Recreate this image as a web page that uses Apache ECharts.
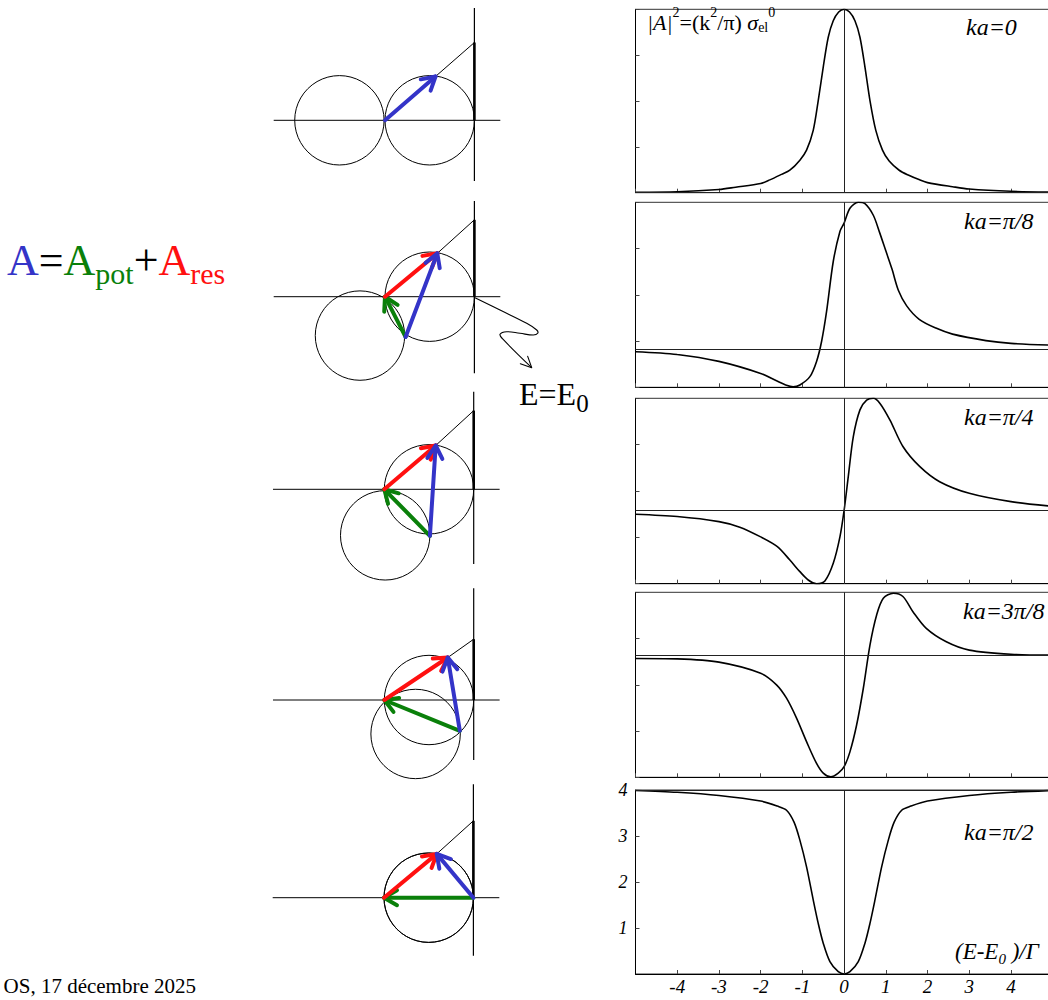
<!DOCTYPE html>
<html><head><meta charset="utf-8">
<script src="https://cdn.jsdelivr.net/npm/echarts@6/dist/echarts.min.js"></script>
<style>html,body{margin:0;padding:0;background:#fff}#c{width:1048px;height:1000px}</style>
</head><body><div id="c"></div>
<script>
// ---------------- data ----------------
const xTickLabels = ['-4','-3','-2','-1','0','1','2','3','4'];
const yTickLabels = ['1','2','3','4'];
const panelLabels = ['ka=0','ka=π/8','ka=π/4','ka=3π/8','ka=π/2'];
const baselines = [0, 0.835, 1.585, 2.64, 4];

const curveKa0 = [[-5,0.01],[-4,0.02],[-3,0.07],[-2.6,0.12],[-2,0.2],[-1.78,0.28],[-1.5,0.4],[-1.3,0.49],[-1.06,0.71],[-0.9,0.93],[-0.74,1.36],[-0.62,2.01],[-0.5,2.74],[-0.38,3.39],[-0.26,3.75],[-0.13,3.94],[0,4.0],
  [0.13,3.94],[0.26,3.75],[0.38,3.39],[0.5,2.74],[0.62,2.01],[0.76,1.36],[0.92,0.93],[1.08,0.69],[1.32,0.49],[1.55,0.38],[1.81,0.28],[2,0.22],[2.6,0.13],[3,0.08],[4,0.03],[5,0.01]];
const curveKaPi8 = [[-5,0.77],[-4,0.71],[-3,0.56],[-2,0.30],[-1.62,0.14],[-1.4,0.05],[-1.22,0.01],[-1.06,0.05],[-0.82,0.23],[-0.66,0.56],[-0.54,0.99],[-0.42,1.64],[-0.26,2.72],[-0.1,3.37],[0,3.55],[0.14,3.87],[0.34,4.0],[0.5,3.97],[0.7,3.72],[0.85,3.35],[1.0,2.95],[1.15,2.55],[1.3,2.1],[1.5,1.76],[1.8,1.47],[2.2,1.28],[2.6,1.15],[3.4,1.01],[4,0.95],[5,0.91]];
const curveKaPi4 = [[-5,1.5],[-4,1.45],[-3,1.34],[-2.5,1.22],[-2,1.01],[-1.6,0.8],[-1.3,0.51],[-1.06,0.26],[-0.86,0.08],[-0.66,0.0],[-0.46,0.06],[-0.26,0.44],[-0.1,1.01],[0,1.58],[0.1,2.31],[0.22,3.17],[0.38,3.75],[0.54,3.96],[0.7,4.0],[0.86,3.89],[1.1,3.53],[1.41,2.96],[1.81,2.53],[2.29,2.2],[3,1.95],[4,1.77],[5,1.67]];
const curveKa3Pi8 = [[-5,2.57],[-4,2.56],[-3,2.49],[-2,2.25],[-1.62,2.0],[-1.38,1.71],[-1.14,1.28],[-0.9,0.77],[-0.66,0.30],[-0.5,0.09],[-0.32,0.01],[-0.14,0.09],[0,0.23],[0.14,0.55],[0.3,1.13],[0.46,1.92],[0.62,2.86],[0.78,3.51],[0.94,3.87],[1.18,3.98],[1.41,3.91],[1.65,3.58],[1.97,3.22],[2.45,2.93],[3,2.75],[4,2.66],[5,2.64]];
const curveKaPi2 = [[-5,3.99],[-4,3.95],[-3,3.88],[-2,3.76],[-1.6,3.65],[-1.38,3.56],[-1.2,3.3],[-1.06,2.91],[-0.9,2.33],[-0.74,1.61],[-0.62,1.1],[-0.5,0.67],[-0.34,0.27],[-0.14,0.05],[0,0],
  [0.14,0.05],[0.34,0.27],[0.5,0.67],[0.62,1.1],[0.74,1.61],[0.9,2.33],[1.06,2.91],[1.2,3.3],[1.38,3.56],[1.6,3.65],[2,3.76],[3,3.88],[4,3.95],[5,3.99]];
const curves = [curveKa0, curveKaPi8, curveKaPi4, curveKa3Pi8, curveKaPi2];

// phasor diagrams (unit = circle radius)
const axisSpan = [-2.49, 2.58];
const resCircleCenter = [1, 0];
const potCircleCenters = [[-1.02,0],[-0.56,-0.87],[0.02,-1.03],[0.70,-0.76],[1.0,0.0]];
const potStarts = [[0,0],[0.46,-0.9],[1.02,-1.04],[1.69,-0.69],[2.0,0]];
const tips = [[1.13,0.98],[1.17,0.97],[1.15,0.98],[1.42,0.95],[1.18,0.98]];
const qHeights = [1.74,1.72,1.76,1.36,1.72];
const vLineSpans = [[2.51,-1.36],[2.14,-1.71],[2.18,-1.67],[2.50,-1.34],[2.54,-1.30]];
const squiggle = [[2.013,-0.022],[2.573,-0.298],[3.17,-0.595],[3.394,-0.745],[3.416,-0.819],[3.318,-0.857],[3.02,-0.819],[2.723,-0.783],[2.573,-0.841],[2.633,-0.946],[3.282,-1.588]];

// ---------------- layout ----------------
const SERIF = 'Liberation Serif';
const BLUE = '#3434c8', RED = '#ff1010', GREEN = '#0a800a';
const panelTops = [9.3, 202.3, 398.3, 592.3, 790];
const panelHeights = [183.4, 185, 185.4, 185, 184];
const panelLeft = 635.5, panelWidth = 417.2;
const S = 44.7;
const diagOrigins = [[385,120.3],[385,296.7],[384.3,489.3],[384.3,700],[384,897.7]];
const dX = [-2.5, 3.5], dY = [-2, 2.6];
const labelLeft = [966, 964, 964, 963, 964];
const labelMid = [27, 221, 417, 611, 832];

const grids = [], xAxes = [], yAxes = [], series = [];
for (let i = 0; i < 5; i++) {
  grids.push({left: panelLeft, top: panelTops[i], width: panelWidth, height: panelHeights[i],
    show: true, borderColor: '#333', borderWidth: 1, containLabel: false, outerBoundsMode: 'none'});
  xAxes.push({gridIndex: i, type: 'value', min: -5, max: 5, interval: 1,
    axisLine: {show: true, onZero: false, lineStyle: {color: '#000', width: 1}},
    axisTick: {show: true, inside: true, length: 4, lineStyle: {color: '#444'}},
    axisLabel: {show: i === 4, showMinLabel: false, showMaxLabel: false, margin: 3,
      fontFamily: SERIF, fontStyle: 'italic', fontSize: 19, color: '#000',
      formatter: v => (v >= -4 && v <= 4) ? xTickLabels[v + 4] : ''},
    splitLine: {show: false}});
  yAxes.push({gridIndex: i, type: 'value', min: 0, max: 4, interval: 1,
    axisLine: {show: true, onZero: false, lineStyle: {color: '#000', width: 1}},
    axisTick: {show: true, inside: true, length: 4, lineStyle: {color: '#444'}},
    axisLabel: {show: i === 4, showMinLabel: false, margin: 8,
      fontFamily: SERIF, fontStyle: 'italic', fontSize: 18, color: '#000',
      formatter: v => (v >= 1 && v <= 4) ? yTickLabels[v - 1] : ''},
    splitLine: {show: false}});
  series.push({type: 'line', xAxisIndex: i, yAxisIndex: i, data: curves[i],
    showSymbol: false, smooth: 0.3,
    lineStyle: {color: '#000', width: 1.6}, silent: true,
    markLine: {silent: true, symbol: ['none','none'], label: {show: false},
      lineStyle: {color: '#222', width: 1, type: 'solid'},
      data: [{xAxis: 0}, {yAxis: baselines[i]}]}});
}

function arrowGroup(a, b, color, width, len, half) {
  const dx = b[0]-a[0], dy = b[1]-a[1], L = Math.hypot(dx, dy);
  const ux = -dx/L, uy = -dy/L;
  const rot = (t) => [b[0] + len*(ux*Math.cos(t) - uy*Math.sin(t)), b[1] + len*(ux*Math.sin(t) + uy*Math.cos(t))];
  const p1 = rot(half), p2 = rot(-half);
  const st = {stroke: color, lineWidth: width, fill: 'none', lineCap: 'round', lineJoin: 'round'};
  return {type: 'group', children: [
    {type: 'line', shape: {x1: a[0], y1: a[1], x2: b[0], y2: b[1]}, style: st},
    {type: 'polyline', shape: {points: [p1, b, p2]}, style: st}
  ]};
}

function buildElements(i) {
  const els = [];
  els.push({k: 'seg', p: [[axisSpan[0],0],[axisSpan[1],0]], w: 1});
  els.push({k: 'seg', p: [[2, vLineSpans[i][0]],[2, vLineSpans[i][1]]], w: 1.2});
  els.push({k: 'seg', p: [[2,0],[2,qHeights[i]]], w: 2.6});
  els.push({k: 'seg', p: [tips[i],[2,qHeights[i]]], w: 1});
  els.push({k: 'circle', c: resCircleCenter, r: 1});
  els.push({k: 'circle', c: potCircleCenters[i], r: 1});
  const s = potStarts[i];
  if (s[0] === 0 && s[1] === 0) {
    els.push({k: 'arrow', a: [0,0], b: tips[i], col: BLUE});
  } else {
    els.push({k: 'arrow', a: s, b: [0,0], col: GREEN});
    els.push({k: 'arrow', a: [0,0], b: tips[i], col: RED});
    els.push({k: 'arrow', a: s, b: tips[i], col: BLUE});
  }
  if (i === 1) els.push({k: 'squiggle', p: squiggle});
  return els;
}

function makeRender(els) {
  return function (params, api) {
    const e = els[params.dataIndex];
    if (e.k === 'circle') {
      const c = api.coord(e.c), r = api.size([e.r, 0])[0];
      return {type: 'circle', shape: {cx: c[0], cy: c[1], r: r}, style: {fill: 'none', stroke: '#000', lineWidth: 1}};
    }
    if (e.k === 'seg') {
      const a = api.coord(e.p[0]), b = api.coord(e.p[1]);
      return {type: 'line', shape: {x1: a[0], y1: a[1], x2: b[0], y2: b[1]}, style: {stroke: '#000', lineWidth: e.w}};
    }
    if (e.k === 'arrow') {
      return arrowGroup(api.coord(e.a), api.coord(e.b), e.col, 4, 15, Math.PI/6);
    }
    if (e.k === 'squiggle') {
      const pts = e.p.map(p => api.coord(p));
      const n = pts.length;
      const head = arrowGroup(pts[n-2], pts[n-1], '#000', 1.1, 12, 0.45);
      return {type: 'group', children: [
        {type: 'polyline', shape: {points: pts, smooth: 0.4}, style: {stroke: '#000', lineWidth: 1.1, fill: 'none'}},
        head.children[1]
      ]};
    }
  };
}

for (let i = 0; i < 5; i++) {
  const gi = 5 + i, o = diagOrigins[i];
  grids.push({left: o[0] + dX[0]*S, top: o[1] - dY[1]*S, width: (dX[1]-dX[0])*S, height: (dY[1]-dY[0])*S,
    show: false, containLabel: false, outerBoundsMode: 'none'});
  xAxes.push({gridIndex: gi, type: 'value', min: dX[0], max: dX[1], show: false});
  yAxes.push({gridIndex: gi, type: 'value', min: dY[0], max: dY[1], show: false});
  const els = buildElements(i);
  series.push({type: 'custom', xAxisIndex: gi, yAxisIndex: gi, silent: true, clip: false,
    data: els.map(() => [0, 0]), renderItem: makeRender(els)});
}

// texts
const tok = (size, fill, extra) => Object.assign({fontFamily: SERIF, fontSize: size, lineHeight: size, fill: fill, verticalAlign: 'top'}, extra || {});
const graphic = [];
graphic.push({type: 'text', x: 7, y: 238, silent: true, style: {
  text: '{b|A}{k|=}{g|A}{gs|pot}{k|+}{r|A}{rs|res}', verticalAlign: 'top', align: 'left',
  fontFamily: SERIF, fontSize: 44,
  rich: {
    b: tok(44, BLUE), k: tok(44, '#000'), g: tok(44, GREEN),
    gs: tok(30, GREEN, {padding: [20,0,0,0]}),
    r: tok(44, RED),
    rs: tok(30, RED, {padding: [20,0,0,0]})
  }}});
graphic.push({type: 'text', x: 519, y: 377.5, silent: true, style: {
  text: '{m|E=E}{s|0}', verticalAlign: 'top', align: 'left', fontFamily: SERIF, fontSize: 32,
  rich: { m: tok(32, '#000'), s: tok(25, '#000', {padding: [13,0,0,0]}) }}});
graphic.push({type: 'text', x: 196, y: 986, silent: true, style: {
  text: 'OS, 17 décembre 2025', fontFamily: SERIF, fontSize: 21, fill: '#000', align: 'right', verticalAlign: 'middle'}});
graphic.push({type: 'text', x: 647, y: 5, silent: true, style: {
  text: '{it||A|}{sup|2}{n|=(k}{sup|2}{n|/π) }{it|σ}{sub|el}{sup|0}', verticalAlign: 'top', align: 'left',
  fontFamily: SERIF, fontSize: 22,
  rich: {
    it: tok(22, '#000', {fontStyle: 'italic', padding: [6,0,0,0]}),
    n: tok(22, '#000', {padding: [6,0,0,0]}),
    sup: tok(14, '#000'),
    sub: tok(14, '#000', {padding: [15,0,0,0]})
  }}});
for (let i = 0; i < 5; i++) {
  graphic.push({type: 'text', x: labelLeft[i], y: labelMid[i], silent: true, style: {
    text: panelLabels[i], fontFamily: SERIF, fontStyle: 'italic', fontSize: 24, fill: '#000', align: 'left', verticalAlign: 'middle'}});
}
graphic.push({type: 'text', x: 955, y: 940, silent: true, style: {
  text: '{m|(E-E}{s|0}{m| )/Γ}', verticalAlign: 'top', align: 'left', fontFamily: SERIF, fontSize: 23,
  rich: {
    m: tok(23, '#000', {fontStyle: 'italic'}),
    s: tok(15, '#000', {fontStyle: 'italic', padding: [11,0,0,0]})
  }}});

const chart = echarts.init(document.getElementById('c'), null, {renderer: 'svg'});
chart.setOption({animation: false, backgroundColor: '#fff', grid: grids, xAxis: xAxes, yAxis: yAxes, series: series, graphic: graphic});
</script></body></html>
